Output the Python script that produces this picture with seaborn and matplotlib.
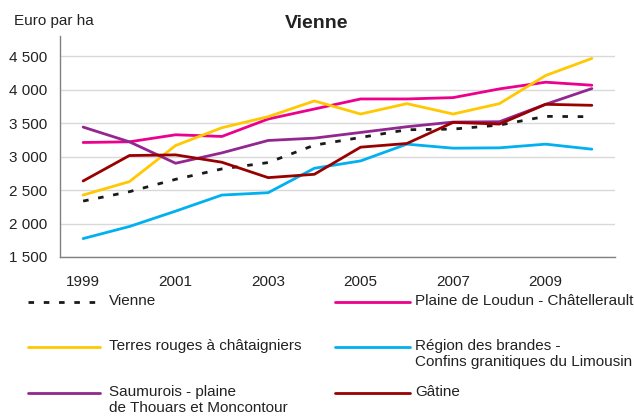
import pandas as pd
import matplotlib
matplotlib.use("Agg")
import matplotlib.pyplot as plt
from matplotlib.lines import Line2D
from matplotlib.ticker import FixedLocator, FuncFormatter
import seaborn as sns

years = list(range(1999, 2011))

vienne = [2335, 2475, 2660, 2815, 2910, 3170, 3285, 3400, 3410, 3470, 3600, 3595]
loudun = [3210, 3220, 3325, 3300, 3560, 3710, 3860, 3860, 3880, 4010, 4110, 4065]
terres = [2425, 2625, 3165, 3430, 3595, 3830, 3635, 3790, 3635, 3790, 4210, 4465]
brandes = [1775, 1955, 2185, 2425, 2460, 2825, 2935, 3185, 3125, 3130, 3185, 3110]
saumurois = [3440, 3220, 2900, 3055, 3240, 3275, 3360, 3445, 3515, 3520, 3780, 4015]
gatine = [2635, 3015, 3025, 2915, 2685, 2735, 3140, 3195, 3510, 3485, 3780, 3765]

names = [
    "Vienne",
    "Plaine de Loudun - Châtellerault",
    "Terres rouges à châtaigniers",
    "Région des brandes -\nConfins granitiques du Limousin",
    "Saumurois - plaine\nde Thouars et Moncontour",
    "Gâtine",
]
series = [vienne, loudun, terres, brandes, saumurois, gatine]
colors = ["#1a1a1a", "#EC008C", "#FFC800", "#00B0F0", "#92278F", "#990000"]

df = pd.DataFrame(
    [(n, y, v) for n, vals in zip(names, series) for y, v in zip(years, vals)],
    columns=["serie", "annee", "valeur"],
)

sns.set_style("white")
plt.rcParams["font.family"] = ["Liberation Sans", "DejaVu Sans"]

fig = plt.figure(figsize=(6.34, 4.16), dpi=100)
ax = fig.add_axes([60 / 634, 1 - 257 / 416, 555 / 634, 221 / 416])

palette = dict(zip(names, colors))
dashes = {n: "" for n in names}
dashes["Vienne"] = (2, 3.5)
sns.lineplot(data=df, x="annee", y="valeur", hue="serie", style="serie",
             palette=palette, dashes=dashes, linewidth=2.0, legend=False, ax=ax)

ax.set_xlim(1998.5, 2010.5)
ax.set_ylim(1500, 4800)
ax.yaxis.set_major_locator(FixedLocator([1500, 2000, 2500, 3000, 3500, 4000, 4500]))
ax.yaxis.set_major_formatter(FuncFormatter(lambda v, p: f"{int(v):,}".replace(",", " ")))
ax.xaxis.set_major_locator(FixedLocator(years[::2]))
ax.xaxis.set_major_formatter(FuncFormatter(lambda v, p: str(int(v))))
ax.xaxis.set_minor_locator(FixedLocator([y - 0.5 for y in years] + [2010.5]))
ax.tick_params(axis="x", which="major", length=0, pad=13, labelsize=11, colors="#222222")
ax.tick_params(axis="x", which="minor", length=5, width=1, color="#808080", direction="out")
ax.tick_params(axis="y", length=0, pad=9, labelsize=11, colors="#222222")
ax.grid(axis="y", color="#d9d9d9", linewidth=1)
ax.set_axisbelow(True)
for s in ["top", "right"]:
    ax.spines[s].set_visible(False)
for s in ["left", "bottom"]:
    ax.spines[s].set_color("#808080")
    ax.spines[s].set_linewidth(1)
ax.set_xlabel("")
ax.set_ylabel("")

fig.text(0.5, 1 - 23 / 416, "Vienne", ha="center", va="center",
         fontsize=14, fontweight="bold", color="#222222")
fig.text(14 / 634, 1 - 21 / 416, "Euro par ha", ha="left", va="center",
         fontsize=11, color="#222222")

# legend drawn by hand, two columns
order = [
    (0, 28, 100, 109, 302),
    (1, 335, 410, 415, 302),
    (2, 28, 100, 109, 347),
    (3, 335, 410, 415, 347),
    (4, 28, 100, 109, 393),
    (5, 335, 410, 415, 393),
]
for i, x0, x1, xt, yc in order:
    yf = 1 - yc / 416
    ls = (0, (2, 3.5)) if i == 0 else "-"
    fig.add_artist(Line2D([x0 / 634, x1 / 634], [yf, yf], transform=fig.transFigure,
                          color=colors[i], linewidth=2.0, linestyle=ls))
    fig.text(xt / 634, 1 - (yc - 8) / 416, names[i], ha="left", va="top",
             fontsize=11, color="#222222", linespacing=1.2)

fig.savefig("out.png", dpi=100)
